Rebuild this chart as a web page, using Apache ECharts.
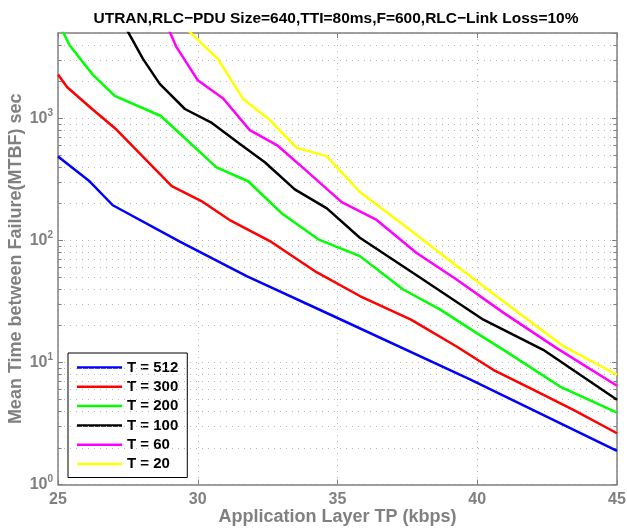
<!DOCTYPE html>
<html><head><meta charset="utf-8">
<script src="https://cdn.jsdelivr.net/npm/echarts@6/dist/echarts.min.js"></script>
<style>html,body{margin:0;padding:0;background:#fff}#c{width:627px;height:528px}</style>
</head><body><div id="c"></div>
<script>
// ---- data ----
const seriesNames = ['T = 512', 'T = 300', 'T = 200', 'T = 100', 'T = 60', 'T = 20'];
const seriesColors = ['#0000ff', '#ff0000', '#00ff00', '#000000', '#ff00ff', '#ffff00'];

const x512 = [25, 26.13, 26.96, 29.36, 31.75, 34.73, 39.74, 45];
const y512 = [487, 305, 194, 97.6, 50.9, 24.7, 7.28, 1.89];

const x300 = [25, 25.33, 26.22, 27.09, 29.07, 30.13, 31.18, 32.58, 33.30, 34.25, 35.80, 37.63, 39.26, 40.57, 41.89, 43.44, 45];
const y300 = [2290, 1798, 1192, 809, 278, 210, 145, 98.7, 76.7, 54.9, 35.0, 22.4, 13.5, 8.71, 6.16, 4.09, 2.63];

const x200 = [25, 25.42, 26.25, 27.03, 28.68, 30.67, 31.80, 33.00, 34.31, 35.80, 37.35, 38.68, 39.98, 41.05, 42.96, 45];
const y200 = [6150, 3950, 2270, 1525, 1045, 396, 305, 167, 102, 74.3, 39.6, 27.1, 17.4, 12.2, 6.35, 3.88];

const x100 = [27.01, 27.51, 28.04, 28.64, 29.54, 30.47, 31.51, 32.40, 33.47, 34.62, 35.80, 37.95, 40.22, 42.36, 45];
const y100 = [8110, 5090, 3070, 1914, 1192, 927, 615, 437, 262, 183, 105, 49.7, 22.4, 12.7, 4.94];

const x60 = [28.52, 29.24, 30.01, 30.91, 31.86, 32.83, 33.90, 35.15, 36.40, 37.83, 39.26, 40.93, 42.84, 45];
const y60 = [9030, 3830, 2037, 1455, 801, 604, 369, 206, 147, 78.9, 47.8, 25.6, 13.1, 6.44];

const x20 = [29.0, 30.73, 31.62, 32.58, 33.54, 34.61, 35.80, 37.52, 39.38, 40.93, 43.08, 45];
const y20 = [7350, 3041, 1441, 968, 573, 490, 249, 125.5, 58.9, 31.7, 13.6, 7.93];

const xTicks = [25, 30, 35, 40, 45];
const yDecades = [1, 10, 100, 1000];
const yMinor = [2, 3, 4, 5, 6, 7, 8, 9, 20, 30, 40, 50, 60, 70, 80, 90,
                200, 300, 400, 500, 600, 700, 800, 900, 2000, 3000, 4000];

const titleText = 'UTRAN,RLC\u2212PDU Size=640,TTI=80ms,F=600,RLC\u2212Link Loss=10%';
const xName = 'Application Layer TP (kbps)';
const yName = 'Mean Time between Failure(MTBF) sec';

// ---- chart ----
const xs = [x512, x300, x200, x100, x60, x20];
const ys = [y512, y300, y200, y100, y60, y20];
const FONT = '"Liberation Sans", Arial, Helvetica, sans-serif';
const GRAY = '#808080';
const GRIDC = '#b8b8b8';
const X0 = xTicks[0], X1 = xTicks[xTicks.length - 1], Y0 = yDecades[0], Y1 = 5000;

const lineSeries = seriesNames.map((n, i) => ({
  name: n, type: 'line', xAxisIndex: 0, yAxisIndex: 0,
  data: xs[i].map((x, k) => [x, ys[i][k]]),
  showSymbol: false, symbol: 'none', clip: true,
  lineStyle: { color: seriesColors[i], width: 2.5 },
  itemStyle: { color: seriesColors[i] },
  z: 5
}));

const gridLines = yMinor.map(v => ({ yAxis: v }));
const tickLen = 0.13;
const minorTicks = [];
yMinor.forEach(v => {
  minorTicks.push([{ coord: [X0, v] }, { coord: [X0 + tickLen, v] }]);
  minorTicks.push([{ coord: [X1 - tickLen, v] }, { coord: [X1, v] }]);
});

const helperSeries = [{
  name: 'grid', type: 'line', data: [], silent: true, z: 1,
  markLine: {
    silent: true, symbol: ['none', 'none'], label: { show: false },
    lineStyle: { color: GRIDC, type: [1, 5], width: 1 },
    emphasis: { disabled: true },
    data: gridLines, animation: false
  }
}, {
  name: 'ticks', type: 'line', data: [], silent: true, z: 2,
  markLine: {
    silent: true, symbol: ['none', 'none'], label: { show: false },
    lineStyle: { color: GRAY, type: 'solid', width: 1 },
    emphasis: { disabled: true },
    data: minorTicks, animation: false
  }
}];

const option = {
  animation: false,
  backgroundColor: '#ffffff',
  title: {
    text: titleText, left: 331, top: 6, textAlign: 'center',
    textStyle: { fontFamily: FONT, fontSize: 15.5, fontWeight: 'bold', color: '#000' }
  },
  grid: { left: 58, right: 10, top: 33, bottom: 43.5, containLabel: false, outerBoundsMode: 'none' },
  legend: {
    data: seriesNames, orient: 'vertical', left: 68, top: 353,
    icon: 'rect', itemWidth: 45, itemHeight: 2.5, itemGap: 4.3,
    backgroundColor: '#fff', borderColor: '#000', borderWidth: 1,
    padding: [7, 9, 6, 9],
    textStyle: { fontFamily: FONT, fontSize: 15, fontWeight: 'bold', color: '#000' },
    selectedMode: false
  },
  xAxis: [{
    type: 'value', min: X0, max: X1, interval: 5, position: 'bottom',
    name: xName, nameLocation: 'middle', nameGap: 24, nameMoveOverlap: false,
    nameTextStyle: { fontFamily: FONT, fontSize: 18, fontWeight: 'bold', color: GRAY },
    axisLine: { show: true, lineStyle: { color: GRAY, width: 1.5 } },
    axisTick: { show: true, inside: true, length: 5, lineStyle: { color: GRAY } },
    axisLabel: { fontFamily: FONT, fontSize: 16, fontWeight: 'bold', color: GRAY, margin: 7 },
    splitLine: { show: true, lineStyle: { color: GRIDC, type: [1, 5] } }
  }, {
    type: 'value', min: X0, max: X1, interval: 5, position: 'top',
    axisLine: { show: true, onZero: false, lineStyle: { color: GRAY, width: 1.5 } },
    axisTick: { show: true, inside: true, length: 5, lineStyle: { color: GRAY } },
    axisLabel: { show: false }, splitLine: { show: false }
  }],
  yAxis: [{
    type: 'log', logBase: 10, min: Y0, max: Y1, position: 'left',
    name: yName, nameLocation: 'middle', nameGap: 33, nameMoveOverlap: false,
    nameTextStyle: { fontFamily: FONT, fontSize: 18, fontWeight: 'bold', color: GRAY },
    axisLine: { show: true, lineStyle: { color: GRAY, width: 1.5 } },
    axisTick: { show: true, inside: true, length: 5, lineStyle: { color: GRAY } },
    axisLabel: {
      showMaxLabel: false, margin: 5,
      formatter: v => '{b|10}{s|' + Math.round(Math.log10(v)) + '}',
      rich: {
        b: { fontFamily: FONT, fontSize: 16, fontWeight: 'bold', color: GRAY },
        s: { fontFamily: FONT, fontSize: 10, fontWeight: 'bold', color: GRAY, padding: [0, 0, 11, 0] }
      }
    },
    splitLine: { show: true, lineStyle: { color: GRIDC, type: [1, 5] } }
  }, {
    type: 'log', logBase: 10, min: Y0, max: Y1, position: 'right',
    axisLine: { show: true, onZero: false, lineStyle: { color: GRAY, width: 1.5 } },
    axisTick: { show: true, inside: true, length: 5, lineStyle: { color: GRAY } },
    axisLabel: { show: false }, splitLine: { show: false }
  }],
  series: helperSeries.concat(lineSeries)
};

const chart = echarts.init(document.getElementById('c'), null, { renderer: 'canvas' });
chart.setOption(option);
</script>
</body></html>
